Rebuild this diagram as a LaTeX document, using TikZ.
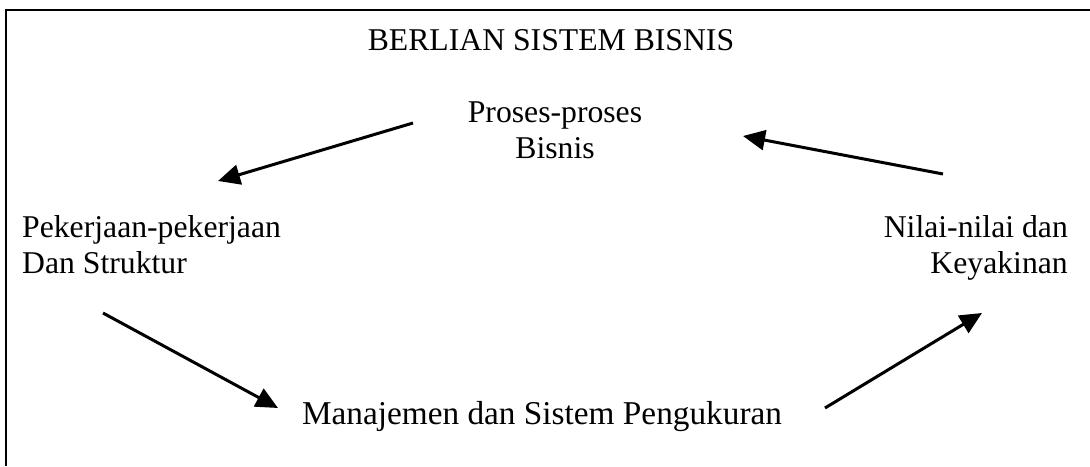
\documentclass[tikz,border=0pt]{standalone}
\usepackage{fontspec}
\setmainfont{Liberation Serif}
\usetikzlibrary{arrows.meta}
\begin{document}
\begin{tikzpicture}[x=1pt,y=-1pt,
  txt/.style={inner sep=0pt, font=\fontsize{31.7}{36}\selectfont},
  frame/.style={line width=2.2pt, black},
  flow/.style={line width=3pt, -{Triangle[length=22pt,width=20pt]}}]
\useasboundingbox (0,0) rectangle (1090,466);
% partial frame: top and left edges
\coordinate (tl) at (6,10);
\coordinate (tr) at (1090,10);
\coordinate (bl) at (6,466);
\draw[frame] (bl) -- (tl) -- (tr);

% labels (base anchor of a two-line node sits on its last line)
\node[txt, anchor=base] (title) at (551,50) {BERLIAN SISTEM BISNIS};
\node[txt, align=center, anchor=base] (proc) at (555,158) {Proses-proses\\Bisnis};
\node[txt, align=left, anchor=base west] (jobs) at (22,273) {Pekerjaan-pekerjaan\\Dan Struktur};
\node[txt, align=right, anchor=base east] (vals) at (1068,273) {Nilai-nilai dan\\Keyakinan};
\node[txt, anchor=base, font=\fontsize{33.3}{38}\selectfont] (mgmt) at (542,424) {Manajemen dan Sistem Pengukuran};

% cycle arrows
\coordinate (a1s) at (413,123); \coordinate (a1e) at (218,181);
\coordinate (a2s) at (943,174); \coordinate (a2e) at (743,136);
\coordinate (a3s) at (103,313); \coordinate (a3e) at (278,408);
\coordinate (a4s) at (825,408); \coordinate (a4e) at (982,313);
\draw[flow] (a1s) -- (a1e);
\draw[flow] (a2s) -- (a2e);
\draw[flow] (a3s) -- (a3e);
\draw[flow] (a4s) -- (a4e);
\end{tikzpicture}
\end{document}
